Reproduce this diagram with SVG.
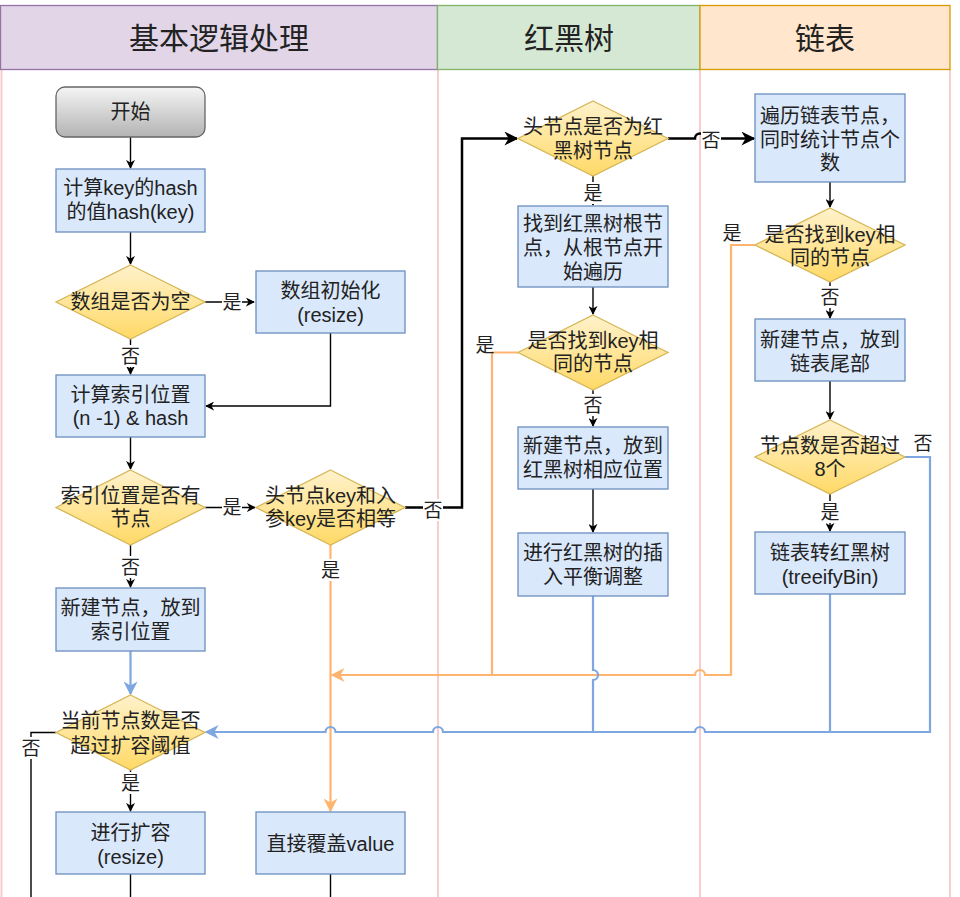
<svg xmlns="http://www.w3.org/2000/svg" width="960" height="897" viewBox="0 0 960 897">
<defs>
<style>
.t{font-family:"Liberation Sans","Noto Sans CJK SC",sans-serif;font-size:20px;fill:#222;text-anchor:middle;dominant-baseline:central}
.h{font-family:"Liberation Sans","Noto Sans CJK SC",sans-serif;font-size:30px;fill:#222;text-anchor:middle;dominant-baseline:central}
.el{font-family:"Liberation Sans","Noto Sans CJK SC",sans-serif;font-size:19px;fill:#222;text-anchor:middle;dominant-baseline:central}
.box{fill:#dae8fc;stroke:#6c8ebf;stroke-width:1.3}
.dia{fill:url(#yg);stroke:#d6b656;stroke-width:1.3}
.lane{stroke:#f8cecc;stroke-width:2;fill:none}
.k{fill:none;stroke:#000;stroke-width:1.4}
.kk{fill:none;stroke:#000;stroke-width:2.5}
.b{fill:none;stroke:#7ea6e0;stroke-width:2.2}
.o{fill:none;stroke:#ffb570;stroke-width:2.2}
.lb{fill:#fff}
</style>
<linearGradient id="yg" x1="0" y1="0" x2="0" y2="1"><stop offset="0" stop-color="#fff2cc"/><stop offset="1" stop-color="#ffd966"/></linearGradient>
<linearGradient id="gg" x1="0" y1="0" x2="0" y2="1"><stop offset="0" stop-color="#f5f5f5"/><stop offset="1" stop-color="#b3b3b3"/></linearGradient>
<marker id="ak" viewBox="0 0 10 10" refX="9" refY="5" markerWidth="9" markerHeight="9" markerUnits="userSpaceOnUse" orient="auto"><path d="M0,0 L10,5 L0,10 L3,5 z" fill="#000"/></marker>
<marker id="akk" viewBox="0 0 10 10" refX="9" refY="5" markerWidth="14" markerHeight="14" markerUnits="userSpaceOnUse" orient="auto"><path d="M0,0 L10,5 L0,10 L3,5 z" fill="#000"/></marker>
<marker id="ab" viewBox="0 0 10 10" refX="9" refY="5" markerWidth="14" markerHeight="14" markerUnits="userSpaceOnUse" orient="auto"><path d="M0,0 L10,5 L0,10 L3,5 z" fill="#7ea6e0"/></marker>
<marker id="ao" viewBox="0 0 10 10" refX="9" refY="5" markerWidth="14" markerHeight="14" markerUnits="userSpaceOnUse" orient="auto"><path d="M0,0 L10,5 L0,10 L3,5 z" fill="#ffb570"/></marker>
</defs>
<rect width="960" height="897" fill="#fff"/>
<g id="pool">
<line class="lane" x1="1.5" y1="69" x2="1.5" y2="897"/>
<line class="lane" x1="438" y1="69" x2="438" y2="897"/>
<line class="lane" x1="700" y1="69" x2="700" y2="897"/>
<line class="lane" x1="950" y1="69" x2="950" y2="897"/>
<g id="lane1"><rect x="0.5" y="5.5" width="437" height="64" fill="#e1d5e7" stroke="#9673a6" stroke-width="1.3"/><text class="h" x="219" y="38">基本逻辑处理</text></g>
<g id="lane2"><rect x="437.5" y="5.5" width="262.5" height="64" fill="#d5e8d4" stroke="#82b366" stroke-width="1.3"/><text class="h" x="569" y="38">红黑树</text></g>
<g id="lane3"><rect x="700" y="5.5" width="250" height="64" fill="#ffe6cc" stroke="#d79b00" stroke-width="1.3"/><text class="h" x="825" y="38">链表</text></g>
</g>
<g id="connectors">
<path class="k" d="M130.5,137 V168" marker-end="url(#ak)"/>
<path class="k" d="M130.5,232 V264" marker-end="url(#ak)"/>
<path class="k" d="M205,302 H254" marker-end="url(#ak)"/>
<path class="k" d="M130.5,339 V374" marker-end="url(#ak)"/>
<path class="k" d="M330.5,333 V406 H206" marker-end="url(#ak)"/>
<path class="k" d="M130.5,437 V469" marker-end="url(#ak)"/>
<path class="k" d="M205,507.5 H255" marker-end="url(#ak)"/>
<path class="k" d="M130.5,545 V587" marker-end="url(#ak)"/>
<path class="kk" d="M405,507.5 H462 V138.5 H517" marker-end="url(#akk)"/>
<path class="k" d="M593,176 V205" marker-end="url(#ak)"/>
<path class="k" d="M593,287 V314" marker-end="url(#ak)"/>
<path class="k" d="M593,390 V426" marker-end="url(#ak)"/>
<path class="k" d="M593,489 V532" marker-end="url(#ak)"/>
<path class="kk" d="M668,138.5 H695 A5,5 0 0 1 705,138.5 H754" marker-end="url(#akk)"/>
<path class="k" d="M830,182 V207" marker-end="url(#ak)"/>
<path class="k" d="M830,282 V318" marker-end="url(#ak)"/>
<path class="k" d="M830,381 V419" marker-end="url(#ak)"/>
<path class="k" d="M830,494 V531" marker-end="url(#ak)"/>
<path class="k" d="M130.5,770 V811" marker-end="url(#ak)"/>
<path class="k" d="M56,732.5 H31 V897"/>
<path class="k" d="M130.5,874 V897"/>
<path class="k" d="M330.5,874 V897"/>
<path class="o" d="M330.5,545 V811" marker-end="url(#ao)"/>
<path class="o" d="M755,245 H731 V675 H705 A5,5 0 0 0 695,675 H332" marker-end="url(#ao)"/>
<path class="o" d="M518,352.5 H492 V675"/>
<path class="b" d="M130.5,651 V694" marker-end="url(#ab)"/>
<path class="b" d="M593,596 V670 A5,5 0 0 1 593,680 V732"/>
<path class="b" d="M830,594 V732"/>
<path class="b" d="M905,457 H930 V732 H705 A5,5 0 0 0 695,732 H443 A5,5 0 0 0 433,732 H335.5 A5,5 0 0 0 325.5,732 H206" marker-end="url(#ab)"/>
<g id="edge-labels">
<rect class="lb" x="222" y="291" width="20" height="22"/><text class="el" x="232" y="302">是</text>
<rect class="lb" x="120" y="345" width="20" height="22"/><text class="el" x="130.5" y="356">否</text>
<rect class="lb" x="222" y="496" width="20" height="22"/><text class="el" x="232" y="507">是</text>
<rect class="lb" x="120" y="556" width="20" height="22"/><text class="el" x="130.5" y="567">否</text>
<rect class="lb" x="423" y="499" width="20" height="22"/><text class="el" x="433" y="510">否</text>
<rect class="lb" x="320" y="559" width="20" height="22"/><text class="el" x="330.5" y="570">是</text>
<rect class="lb" x="583" y="182" width="20" height="22"/><text class="el" x="593" y="193">是</text>
<text class="el" x="485" y="345">是</text>
<rect class="lb" x="583" y="394" width="20" height="22"/><text class="el" x="593" y="405">否</text>
<rect class="lb" x="701" y="129" width="20" height="22"/><text class="el" x="711" y="140">否</text>
<text class="el" x="732" y="233">是</text>
<rect class="lb" x="820" y="286" width="20" height="22"/><text class="el" x="830" y="297">否</text>
<text class="el" x="923" y="443">否</text>
<rect class="lb" x="820" y="501" width="20" height="22"/><text class="el" x="830" y="512">是</text>
<rect class="lb" x="21" y="737" width="20" height="22"/><text class="el" x="31" y="748">否</text>
<rect class="lb" x="120" y="772" width="20" height="22"/><text class="el" x="130.5" y="783">是</text>
</g>
</g>
<g id="start"><rect x="56" y="87" width="149" height="50" rx="9" fill="url(#gg)" stroke="#666" stroke-width="1.3"/><text class="t" x="130.5" y="112">开始</text></g>
<g id="hash"><rect class="box" x="56" y="169" width="149" height="63"/><text class="t"><tspan x="130.5" y="188">计算key的hash</tspan><tspan x="130.5" y="212">的值hash(key)</tspan></text></g>
<g id="isEmpty"><polygon class="dia" points="130.5,265 205,302 130.5,339 56,302"/><text class="t" x="130.5" y="302">数组是否为空</text></g>
<g id="init"><rect class="box" x="256" y="271" width="149" height="62"/><text class="t"><tspan x="330.5" y="291">数组初始化</tspan><tspan x="330.5" y="315">(resize)</tspan></text></g>
<g id="index"><rect class="box" x="56" y="375" width="149" height="62"/><text class="t"><tspan x="130.5" y="395">计算索引位置</tspan><tspan x="130.5" y="418">(n -1) &amp; hash</tspan></text></g>
<g id="hasNode"><polygon class="dia" points="130.5,470 205,507.5 130.5,545 56,507.5"/><text class="t"><tspan x="130.5" y="496">索引位置是否有</tspan><tspan x="130.5" y="519">节点</tspan></text></g>
<g id="keyEq"><polygon class="dia" points="330.5,470 405,507.5 330.5,545 256,507.5"/><text class="t"><tspan x="330.5" y="496">头节点key和入</tspan><tspan x="330.5" y="519">参key是否相等</tspan></text></g>
<g id="newAtIndex"><rect class="box" x="56" y="588" width="149" height="63"/><text class="t"><tspan x="130.5" y="608">新建节点，放到</tspan><tspan x="130.5" y="632">索引位置</tspan></text></g>
<g id="threshold"><polygon class="dia" points="130.5,695 205,732.5 130.5,770 56,732.5"/><text class="t"><tspan x="130.5" y="721">当前节点数是否</tspan><tspan x="130.5" y="746">超过扩容阈值</tspan></text></g>
<g id="resize"><rect class="box" x="56" y="812" width="149" height="62"/><text class="t"><tspan x="130.5" y="833">进行扩容</tspan><tspan x="130.5" y="857">(resize)</tspan></text></g>
<g id="overwrite"><rect class="box" x="256" y="812" width="149" height="62"/><text class="t" x="330.5" y="844">直接覆盖value</text></g>
<g id="isTree"><polygon class="dia" points="593,101 668,138.5 593,176 518,138.5"/><text class="t"><tspan x="593" y="127">头节点是否为红</tspan><tspan x="593" y="151">黑树节点</tspan></text></g>
<g id="findRoot"><rect class="box" x="518" y="206" width="150" height="81"/><text class="t"><tspan x="593" y="224">找到红黑树根节</tspan><tspan x="593" y="248">点，从根节点开</tspan><tspan x="593" y="272">始遍历</tspan></text></g>
<g id="treeFound"><polygon class="dia" points="593,315 668,352.5 593,390 518,352.5"/><text class="t"><tspan x="593" y="341">是否找到key相</tspan><tspan x="593" y="364">同的节点</tspan></text></g>
<g id="treeNew"><rect class="box" x="518" y="427" width="150" height="62"/><text class="t"><tspan x="593" y="446">新建节点，放到</tspan><tspan x="593" y="470">红黑树相应位置</tspan></text></g>
<g id="balance"><rect class="box" x="518" y="533" width="150" height="63"/><text class="t"><tspan x="593" y="553">进行红黑树的插</tspan><tspan x="593" y="577">入平衡调整</tspan></text></g>
<g id="traverse"><rect class="box" x="755" y="94" width="150" height="88"/><text class="t"><tspan x="830" y="116">遍历链表节点，</tspan><tspan x="830" y="140">同时统计节点个</tspan><tspan x="830" y="163">数</tspan></text></g>
<g id="listFound"><polygon class="dia" points="830,208 905,245 830,282 755,245"/><text class="t"><tspan x="830" y="235">是否找到key相</tspan><tspan x="830" y="258">同的节点</tspan></text></g>
<g id="listNew"><rect class="box" x="755" y="319" width="150" height="62"/><text class="t"><tspan x="830" y="340">新建节点，放到</tspan><tspan x="830" y="364">链表尾部</tspan></text></g>
<g id="over8"><polygon class="dia" points="830,420 905,457 830,494 755,457"/><text class="t"><tspan x="830" y="446">节点数是否超过</tspan><tspan x="830" y="469">8个</tspan></text></g>
<g id="treeify"><rect class="box" x="755" y="532" width="150" height="62"/><text class="t"><tspan x="830" y="553">链表转红黑树</tspan><tspan x="830" y="577">(treeifyBin)</tspan></text></g>
</svg>
